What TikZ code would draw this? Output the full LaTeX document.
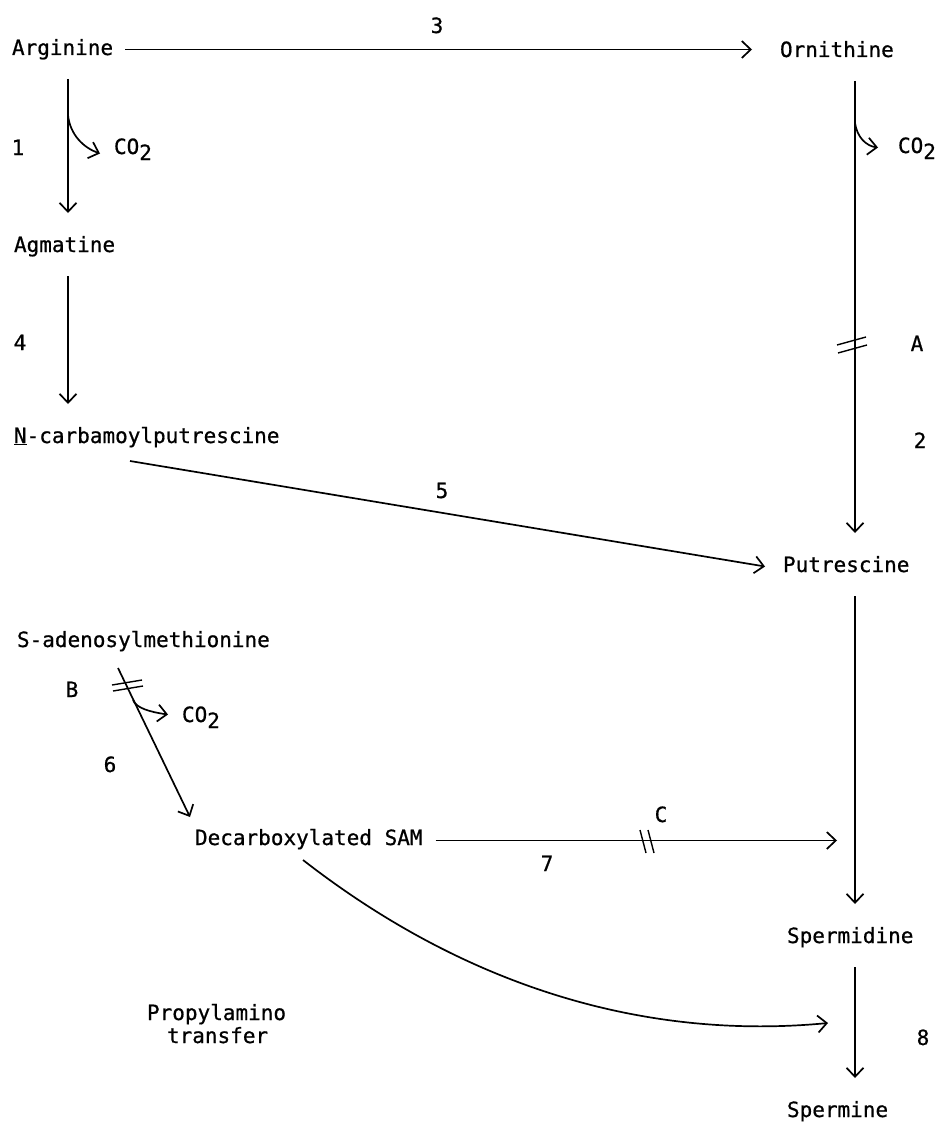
\documentclass[tikz,border=0pt]{standalone}
\usepackage{fontspec}
\setmonofont{DejaVu Sans Mono}[FakeBold=0.7]
\usetikzlibrary{arrows.meta,calc}

\begin{document}
\begin{tikzpicture}[x=1pt,y=-1pt,line width=1.7pt,>={Straight Barb[length=9pt,width=17pt]},
  met/.style={font=\ttfamily\fontsize{21}{23}\selectfont,inner sep=0pt,outer xsep=0pt,outer ysep=24pt,
    text height=15pt,text depth=0pt,anchor=base west},
  lbl/.style={font=\ttfamily\fontsize{21}{23}\selectfont,inner sep=0pt,anchor=base},
  brk/.style={line width=1.4pt}]
  \useasboundingbox (0,0) rectangle (943,1129);
  \coordinate (lcol) at (68,0);   % left column
  \coordinate (rcol) at (855,0);  % right column
  % metabolites
  \node[met] (arg)  at (12,55)   {Arginine};
  \node[met] (orn)  at (780,57)  {Ornithine};
  \node[met] (agm)  at (14,252)  {Agmatine};
  \node[met] (ncp)  at (14,443)  {\underline{N}-carbamoylputrescine};
  \node[met] (put)  at (783,572) {Putrescine};
  \node[met] (sam)  at (17,647)  {S-adenosylmethionine};
  \node[met] (dsam) at (195,845) {Decarboxylated SAM};
  \node[met] (spd)  at (787,943) {Spermidine};
  \node[met] (spm)  at (787,1117){Spermine};
  \node[met] (co2a) at (114,154) {CO\raisebox{-6pt}{2}};
  \node[met] (co2b) at (898,153) {CO\raisebox{-6pt}{2}};
  \node[met] (co2c) at (182,722) {CO\raisebox{-6pt}{2}};
  \node[met] (pa)   at (147,1020){Propylamino};
  \node[met] (pb)   at ([shift={(20,23)}]pa.base west) {transfer};
  % enzyme numbers and blocks
  \node[lbl] (l1) at (18,155)  {1};
  \node[lbl] (l2) at (920,448) {2};
  \node[lbl] (l3) at (437,33)  {3};
  \node[lbl] (l4) at (20,350)  {4};
  \node[lbl] (l5) at (442,498) {5};
  \node[lbl] (l6) at (110,772) {6};
  \node[lbl] (l7) at (547,871) {7};
  \node[lbl] (l8) at (923,1045){8};
  \node[lbl] (lA) at (917,351) {A};
  \node[lbl] (lB) at (72,697)  {B};
  \node[lbl] (lC) at (661,822) {C};
  % reactions
  \draw[->] ([shift={(12,2)}]arg.east) -- ([shift={(-28,2)}]arg.east -| orn.west);
  \draw[->] (arg.south -| lcol) -- (agm.north -| lcol);
  \draw[->] (agm.south -| lcol) -- (ncp.north -| lcol);
  \draw[->] (orn.south -| rcol) -- (put.north -| rcol);
  \draw[->] (put.south -| rcol) -- (spd.north -| rcol);
  \draw[->] (spd.south -| rcol) -- (spm.north -| rcol);
  \draw[->] ([shift={(116,-6)}]ncp.south west) -- ([shift={(-18,2)}]put.west);
  \draw[->] ([shift={(101,-3)}]sam.south west) -- ([shift={(-5,11)}]dsam.north west);
  \draw[->] ([shift={(13,3)}]dsam.east) -- ([shift={(-18,3)}]dsam.east -| rcol);
  \draw[->] ([shift={(108,-9)}]dsam.south west) .. controls (470,990) and (650,1040) .. ([shift={(-27,56)}]spd.south -| rcol);
  % decarboxylations
  \coordinate (d1) at (68,115);
  \coordinate (d2) at (855,123);
  \coordinate (d3) at (133,700);
  \draw[->] (d1) .. controls (70,135) and (84,148) .. ([shift={(-14,7)}]co2a.west);
  \draw[->] (d2) .. controls (857,137) and (866,146) .. ([shift={(-20,2)}]co2b.west);
  \draw[->] (d3) .. controls (136,708) and (150,712) .. ([shift={(-14,0)}]co2c.west);
  % blocked steps
  \draw[brk] (837,345) -- (866,337) (838,353) -- (867,345);
  \draw[brk] (112,685) -- (142,680) (113,691) -- (143,686);
  \draw[brk] (640,830) -- (646,853) (648,830) -- (654,853);
\end{tikzpicture}
\end{document}
